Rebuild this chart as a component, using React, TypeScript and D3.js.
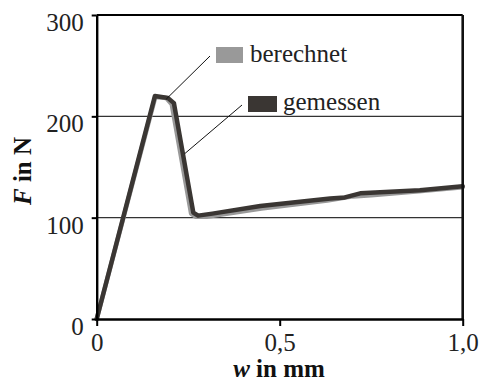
import React, { useEffect, useRef } from 'react';
import * as d3 from 'd3';

// berechnet (computed) curve
const calcW = [0, 0.16, 0.19, 0.205, 0.258, 0.27, 0.3, 0.45, 0.63, 0.7, 0.75, 0.88, 1.0];
const calcF = [0, 219, 218, 212, 104, 101, 101, 109, 117, 121, 122, 126, 130];

// gemessen (measured) curve
const measW = [0, 0.159, 0.195, 0.211, 0.264, 0.277, 0.316, 0.447, 0.638, 0.678, 0.72, 0.883, 1.0];
const measF = [0, 220, 218, 213, 105, 102, 104, 111.5, 119, 120, 124, 127, 131];

const yTicks = [0, 100, 200, 300];
const xTicks = [0, 0.5, 1.0];
const xTickLabels = ['0', '0,5', '1,0'];
const gridValues = [100, 200];

const seriesNames = ['berechnet', 'gemessen'];
const seriesColours = ['#999999', '#3a3633'];
// point on each curve the legend leader line goes to
const leaderW = [0.19, 0.24];
const leaderF = [217, 163];

const WIDTH = 481;
const HEIGHT = 381;
const FONT = '"Liberation Serif", "Times New Roman", serif';

const App: React.FC = () => {
  const svgRef = useRef<SVGSVGElement>(null);

  useEffect(() => {
    const svg = d3.select(svgRef.current);
    svg.selectAll('*').remove();

    const margin = { left: 96.7, right: 18.3, top: 15, bottom: 62 };
    const x = d3.scaleLinear().domain([0, 1]).range([margin.left, WIDTH - margin.right]);
    const y = d3.scaleLinear().domain([0, 300]).range([HEIGHT - margin.bottom, margin.top]);

    // gridlines
    svg.append('g')
      .selectAll('line')
      .data(gridValues)
      .enter().append('line')
      .attr('x1', x(0))
      .attr('x2', x(1))
      .attr('y1', d => y(d))
      .attr('y2', d => y(d))
      .attr('stroke', '#333')
      .attr('stroke-width', 1.1);

    // curves
    const line = d3.line<[number, number]>()
      .x(d => x(d[0]))
      .y(d => y(d[1]));

    const series = [
      calcW.map((w, i) => [w, calcF[i]] as [number, number]),
      measW.map((w, i) => [w, measF[i]] as [number, number]),
    ];

    series.forEach((pts, i) => {
      svg.append('path')
        .attr('d', line(pts) as string)
        .attr('fill', 'none')
        .attr('stroke', seriesColours[i])
        .attr('stroke-width', 4.5)
        .attr('stroke-linejoin', 'round')
        .attr('stroke-linecap', 'round');
    });

    // frame: top and right border
    svg.append('line')
      .attr('x1', x(0)).attr('x2', x(1))
      .attr('y1', y(300)).attr('y2', y(300))
      .attr('stroke', '#000').attr('stroke-width', 2.2);
    svg.append('line')
      .attr('x1', x(1)).attr('x2', x(1))
      .attr('y1', y(300)).attr('y2', y(0))
      .attr('stroke', '#111').attr('stroke-width', 2.6);

    // y axis
    const yAxis = svg.append('g')
      .attr('transform', `translate(${x(0)},0)`)
      .call(d3.axisLeft(y).tickValues(yTicks).tickSize(5).tickSizeOuter(0).tickFormat(d3.format('d')));
    yAxis.select('.domain').attr('stroke-width', 2.4).attr('stroke', '#000');
    yAxis.selectAll('.tick line').attr('stroke-width', 2).attr('stroke', '#000');
    yAxis.selectAll('.tick text')
      .attr('x', -13)
      .attr('dy', '0.62em')
      .attr('font-family', FONT)
      .attr('font-size', 25)
      .attr('fill', '#222');

    // x axis
    const xAxis = svg.append('g')
      .attr('transform', `translate(0,${y(0)})`)
      .call(d3.axisBottom(x).tickValues(xTicks).tickSize(7).tickSizeOuter(0)
        .tickFormat((_d, i) => xTickLabels[i]));
    xAxis.select('.domain').attr('stroke-width', 2.4).attr('stroke', '#000');
    xAxis.selectAll('.tick line').attr('stroke-width', 2).attr('stroke', '#000');
    xAxis.selectAll('.tick text')
      .attr('y', 14)
      .attr('dy', '0.71em')
      .attr('font-family', FONT)
      .attr('font-size', 25)
      .attr('fill', '#222');

    // axis titles
    const xTitle = svg.append('text')
      .attr('x', 279)
      .attr('y', 377)
      .attr('text-anchor', 'middle')
      .attr('font-family', FONT)
      .attr('font-size', 25)
      .attr('font-weight', 'bold')
      .attr('fill', '#111');
    xTitle.append('tspan').attr('font-style', 'italic').text('w');
    xTitle.append('tspan').text(' in mm');

    const yTitle = svg.append('text')
      .attr('transform', 'translate(31,171) rotate(-90)')
      .attr('text-anchor', 'middle')
      .attr('font-family', FONT)
      .attr('font-size', 25)
      .attr('font-weight', 'bold')
      .attr('fill', '#111');
    yTitle.append('tspan').attr('font-style', 'italic').text('F');
    yTitle.append('tspan').text(' in N');

    // legend with leader lines
    const legendPos = [
      { sx: 216, sy: 47, sw: 27, tx: 250, ty: 62 },
      { sx: 248, sy: 96, sw: 29, tx: 283, ty: 110 },
    ];
    seriesNames.forEach((name, i) => {
      const p = legendPos[i];
      svg.append('line')
        .attr('x1', p.sx - 6)
        .attr('y1', p.sy + 9)
        .attr('x2', x(leaderW[i]))
        .attr('y2', y(leaderF[i]))
        .attr('stroke', '#111')
        .attr('stroke-width', 1);
      svg.append('rect')
        .attr('x', p.sx)
        .attr('y', p.sy)
        .attr('width', p.sw)
        .attr('height', 16)
        .attr('fill', seriesColours[i]);
      svg.append('text')
        .attr('x', p.tx)
        .attr('y', p.ty)
        .attr('font-family', FONT)
        .attr('font-size', 25)
        .attr('fill', '#222')
        .text(name);
    });
  }, []);

  return (
    <div style={{ position: 'fixed', left: 0, top: 0, width: WIDTH, height: HEIGHT, background: '#fff' }}>
      <svg ref={svgRef} width={WIDTH} height={HEIGHT}></svg>
    </div>
  );
};

export default App;
